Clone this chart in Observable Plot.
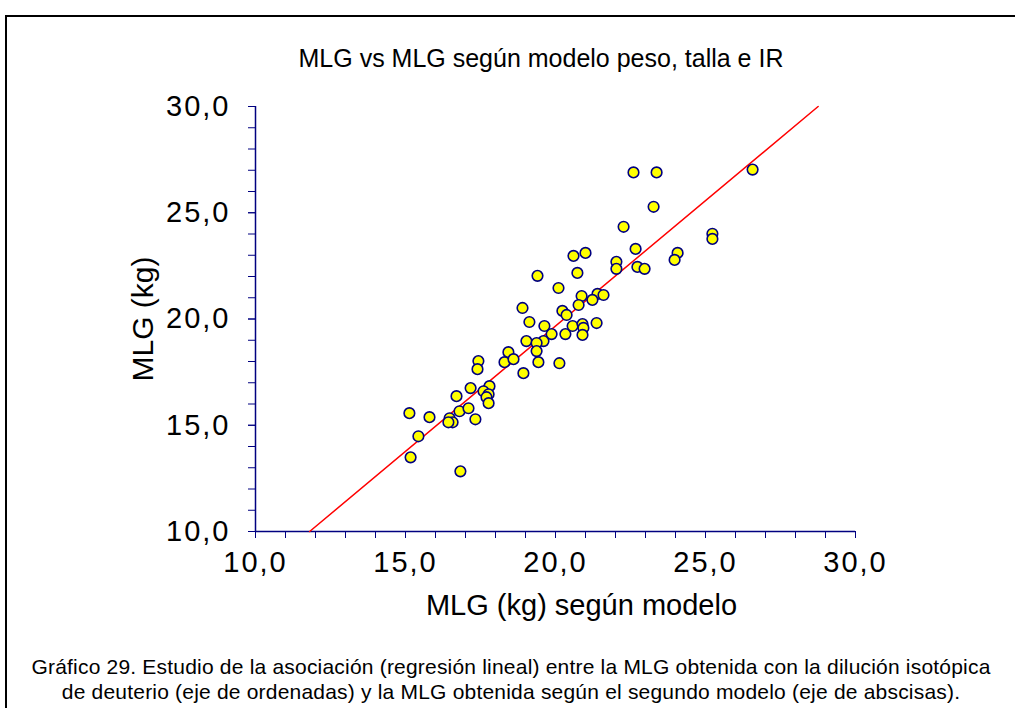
<!DOCTYPE html>
<html>
<head>
<meta charset="utf-8">
<script src="https://cdn.jsdelivr.net/npm/d3@7"></script>
<script src="https://cdn.jsdelivr.net/npm/@observablehq/plot@0.6"></script>
<style>
  html, body { margin: 0; padding: 0; overflow: hidden; background: #fff; }
  body { font-family: Arial, "Liberation Sans", sans-serif; color: #000; }
  #page { position: relative; width: 1015px; height: 708px; overflow: hidden; background: #fff; }
  #frame { position: absolute; left: 5px; top: 15px; width: 1010px; height: 693px;
           border-left: 2px solid #000; border-top: 2px solid #000; box-sizing: border-box; }
  #title { position: absolute; top: 43px; left: 0; width: 1082px; text-align: center;
           font-size: 25px; line-height: 30px; }
  #chart { position: absolute; left: 0; top: 80px; }
  #caption { position: absolute; left: 0; width: 1022px; top: 654px; text-align: center;
             font-size: 21px; line-height: 25px; letter-spacing: 0.2px; }
  #chart svg g[aria-label="y-axis tick label"] text,
  #chart svg g[aria-label="x-axis tick label"] text { letter-spacing: 2px; }
</style>
</head>
<body>
<div id="page">
  <div id="frame"></div>
  <div id="title">MLG vs MLG según modelo peso, talla e IR</div>
  <div id="chart"></div>
  <div id="caption">Gráfico 29. Estudio de la asociación (regresión lineal) entre la MLG obtenida con la dilución isotópica<br>de deuterio (eje de ordenadas) y la MLG obtenida según el segundo modelo (eje de abscisas).</div>
</div>
<script>
// MLG (kg) estimated by the second model (weight, height and IR)
const mlgModelo = [
  22.60, 23.37, 26.57, 23.27, 22.27, 25.23, 25.23, 20.60, 21.00, 22.67,
  22.03, 22.03, 22.73, 22.97, 24.07, 23.97, 20.10, 19.40, 20.73, 20.87,
  20.77, 21.40, 21.60, 21.23, 18.90, 19.13, 20.23, 20.37, 19.63, 19.87,
  19.60, 19.03, 19.37, 19.37, 19.43, 20.13, 20.33, 20.57, 20.90, 20.93,
  20.90, 21.37, 18.43, 18.30, 18.60, 18.93, 17.43, 17.40, 17.80, 17.60,
  17.77, 17.70, 17.77, 16.70, 17.17, 15.13, 15.80, 16.80, 17.10, 17.33,
  16.47, 16.57, 16.43, 15.43, 15.17, 16.83
];
// MLG (kg) measured by deuterium isotopic dilution
const mlgDeuterio = [
  26.90, 26.90, 27.03, 25.28, 24.34, 24.01, 23.77, 22.97, 23.11, 23.30,
  22.69, 22.36, 22.45, 22.36, 23.11, 22.78, 21.46, 22.03, 22.17, 21.08,
  20.66, 21.18, 21.13, 20.90, 20.52, 19.86, 20.38, 20.19, 19.67, 19.29,
  18.96, 18.96, 18.87, 18.49, 17.97, 17.92, 19.29, 19.67, 19.76, 19.58,
  19.25, 19.81, 18.44, 17.97, 18.11, 17.45, 18.02, 17.64, 16.84, 16.60,
  16.46, 16.32, 16.04, 16.37, 16.75, 15.57, 15.38, 15.66, 15.80, 15.28,
  15.33, 15.14, 15.14, 14.48, 13.49, 12.83
];

// Fitted regression line: deuterio = slope * modelo + intercept
const fitSlope = 1.18;
const fitIntercept = -3.93;

// Axis ticks
const majorTicks = [10, 15, 20, 25, 30];
const minorTicks = d3.range(10, 31, 1);

const points = mlgModelo.map((x, i) => ({x, y: mlgDeuterio[i]}));
// The fitted line spans the full vertical extent of the plot
const fitLine = [10, 30].map(y => ({x: (y - fitIntercept) / fitSlope, y}));

const navy = "#000080";
const fmt = d => d.toFixed(1).replace(".", ",");

const chart = Plot.plot({
  width: 1015,
  height: 545,
  marginLeft: 255,
  marginRight: 160,
  marginTop: 26,
  marginBottom: 94,
  x: {domain: [10, 30]},
  y: {domain: [10, 30]},
  style: {fontFamily: "Arial, 'Liberation Sans', sans-serif", fontSize: "29px", color: "#000", background: "transparent"},
  marks: [
    Plot.axisX({ticks: minorTicks, tickSize: 7, tickFormat: () => "", stroke: navy, label: null}),
    Plot.axisX({ticks: majorTicks, tickSize: 7, tickPadding: 13, tickFormat: fmt, stroke: navy, fill: "#000", label: null}),
    Plot.axisY({ticks: minorTicks, tickSize: 7, tickFormat: () => "", stroke: navy, label: null}),
    Plot.axisY({ticks: majorTicks, tickSize: 7, tickPadding: 18, tickFormat: fmt, stroke: navy, fill: "#000", label: null}),
    Plot.ruleY([10], {stroke: navy, strokeWidth: 1.5}),
    Plot.ruleX([10], {stroke: navy, strokeWidth: 1.5}),
    Plot.line(fitLine, {x: "x", y: "y", stroke: "#ff0000", strokeWidth: 1.5}),
    Plot.dot(points, {x: "x", y: "y", r: 5.3, fill: "#ffff00", stroke: navy, strokeWidth: 1.6}),
    Plot.text(["MLG (kg) según modelo"], {frameAnchor: "bottom", lineAnchor: "middle", dx: 26, dy: 74, fontSize: 29, fill: "#000"}),
    Plot.text(["MLG (kg)"], {frameAnchor: "left", textAnchor: "middle", lineAnchor: "middle", rotate: -90, dx: -112, fontSize: 30, fill: "#000"})
  ]
});
document.getElementById("chart").appendChild(chart);
</script>
</body>
</html>
